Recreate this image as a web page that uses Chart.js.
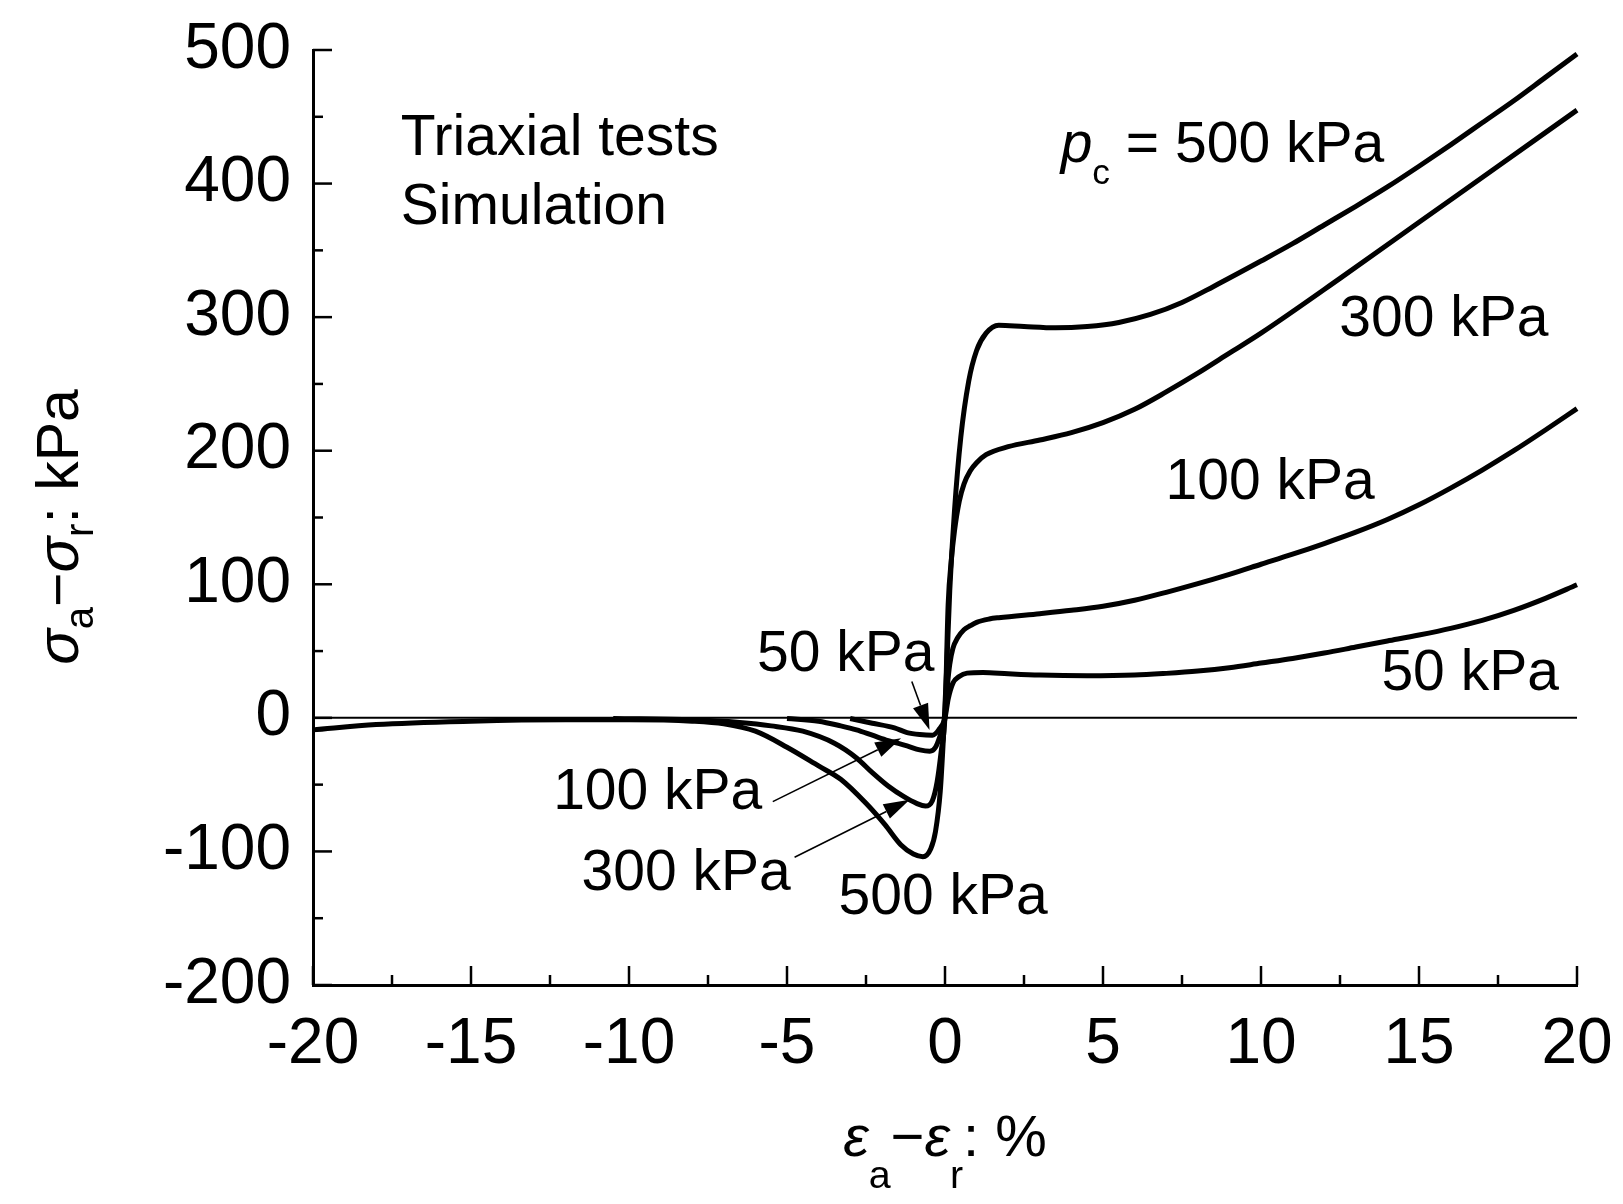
<!DOCTYPE html>
<html>
<head>
<meta charset="utf-8">
<script src="https://cdn.jsdelivr.net/npm/chart.js@4.4.0/dist/chart.umd.min.js"></script>
<style>
  html, body { margin: 0; padding: 0; background: #fff; }
  #wrap { width: 1623px; height: 1204px; position: relative; }
</style>
</head>
<body>
<div id="wrap"><canvas id="chart"></canvas></div>
<script>
// --- data: strain (%) vs deviator stress (kPa) ---
const strain50 = [-3, -2.3, -1.6, -1.2, -0.8, -0.4, -0.2, 0, 0.1, 0.25, 0.45, 0.7, 1.2, 2, 3, 4.5, 6, 7, 8, 9, 10, 11, 12, 13, 14, 15, 16, 17, 18, 19, 20];
const stress50 = [-0.5, -4, -7.5, -11, -12.5, -13, -9, 0, 14, 26, 31, 33.5, 34, 33, 32, 31.5, 32, 33.3, 35, 37.5, 41, 44.5, 48.5, 53, 57.5, 62, 67, 73, 80.5, 89.5, 99.6];

const strain100 = [-5, -4, -3.3, -2.8, -2.3, -1.8, -1.2, -0.8, -0.48, -0.3, -0.15, 0, 0.08, 0.15, 0.25, 0.4, 0.6, 0.8, 1.0, 1.4, 1.7, 3, 4, 5, 6, 7, 8, 9, 10, 11, 12, 13, 14, 15, 16, 17, 18, 19, 20];
const stress100 = [-0.5, -2.5, -6, -9, -13, -17, -21, -24, -25, -22, -13, 0, 25, 40, 52, 60, 66, 69, 71.5, 74, 75, 78, 80.5, 83.5, 88, 94, 100.5, 107.5, 115, 122.5, 130.5, 139, 148.5, 159.5, 172, 185.5, 200, 215.5, 231.5];

const strain300 = [-10.5, -8, -6.5, -5.5, -4.5, -3.5, -2.8, -2.3, -1.8, -1.3, -0.9, -0.62, -0.4, -0.25, -0.12, 0, 0.1, 0.2, 0.3, 0.45, 0.6, 0.8, 1.0, 1.3, 2, 3, 4, 5, 6, 7, 8, 9, 10, 12.5, 15, 17.5, 20];
const stress300 = [-0.5, -1.5, -3.5, -6, -10, -19, -30, -41, -51, -59, -64, -66, -62, -48, -25, 2, 85, 118, 140, 162, 175, 185, 191, 197, 203, 208, 213.5, 221, 231, 244, 258, 273, 288, 329, 371, 413, 455];

const strain500 = [-20, -18, -15, -12, -10, -8, -7, -6, -5, -4, -3.3, -2.5, -1.9, -1.4, -1.0, -0.7, -0.45, -0.3, -0.15, -0.05, 0.05, 0.15, 0.3, 0.5, 0.75, 1.0, 1.3, 1.7, 2.5, 3.5, 4.5, 5.5, 6.5, 7.5, 8.5, 10, 11, 12, 13, 14, 15, 16, 17, 18, 19, 20];
const stress500 = [-9, -5, -2.5, -1.5, -1.5, -2.5, -4.5, -10, -22, -36, -46, -64, -80, -95, -102, -104, -98, -85, -55, -15, 35, 95, 155, 210, 252, 275, 288, 294, 293, 292, 293, 296, 302, 311, 323, 342, 355, 369, 383, 397.5, 413, 429, 445.5, 462, 479.5, 497];

const zeroStrain = [-20, 20];
const zeroStress = [0, 0];

const xMin = -20, xMax = 20, xStep = 5;
const yMin = -200, yMax = 500, yStep = 100;

// annotations (data coordinates)
const notes = [
  { text: "Triaxial tests", x: -17.22, y: 421.5 },
  { text: "Simulation", x: -17.22, y: 369.4 },
  { text: "300 kPa", x: 12.48, y: 286 },
  { text: "100 kPa", x: 6.98, y: 164 },
  { text: "50 kPa", x: 13.81, y: 21 },
  { text: "50 kPa", x: -5.95, y: 35.4 },
  { text: "100 kPa", x: -12.4, y: -68 },
  { text: "300 kPa", x: -11.5, y: -128.8 },
  { text: "500 kPa", x: -3.37, y: -146.7 }
];
const pcNote = { x: 3.66, y: 415.9 };
const arrows = [
  { from: [-1.05, 27.2], to: [-0.49, -9.0] },
  { from: [-5.45, -62.7], to: [-1.39, -15.2] },
  { from: [-4.76, -104.3], to: [-1.12, -61.4] }
];

const FONT = "'Liberation Sans', Arial, Helvetica, sans-serif";
const NOTE_SIZE = 57;

function toXY(arrX, arrY) {
  return arrX.map((x, i) => ({ x: x, y: arrY[i] }));
}

function curve(data, width) {
  return {
    data: data,
    borderColor: "#000",
    borderWidth: width,
    pointRadius: 0,
    fill: false,
    cubicInterpolationMode: "monotone",
    clip: 10
  };
}

// rich text: parts = [{t, italic, sub}]
function richWidth(ctx, parts, size) {
  let w = 0;
  parts.forEach(p => {
    const s = p.sub ? size * p.sub : size;
    ctx.font = `${p.italic ? "italic " : ""}${s}px ${FONT}`;
    w += ctx.measureText(p.t).width;
  });
  return w;
}
function drawRich(ctx, parts, x, y, size) {
  let cx = x;
  parts.forEach(p => {
    const s = p.sub ? size * p.sub : size;
    ctx.font = `${p.italic ? "italic " : ""}${s}px ${FONT}`;
    const dy = p.sub ? size * (p.drop || 0.36) : 0;
    ctx.fillText(p.t, cx, y + dy);
    cx += ctx.measureText(p.t).width;
  });
}

const decorPlugin = {
  id: "decor",
  beforeDraw(chart) {
    const ctx = chart.ctx;
    ctx.save();
    ctx.fillStyle = "#fff";
    ctx.fillRect(0, 0, chart.width, chart.height);
    ctx.restore();
  },
  afterDraw(chart) {
    const ctx = chart.ctx;
    const xs = chart.scales.x, ys = chart.scales.y;
    const area = chart.chartArea;
    ctx.save();
    ctx.strokeStyle = "#000";
    ctx.fillStyle = "#000";

    // inward major + minor ticks
    ctx.lineWidth = 2.5;
    for (let v = xMin; v <= xMax; v += xStep / 2) {
      const px = xs.getPixelForValue(v);
      const len = (v % xStep === 0) ? 19 : 10;
      ctx.beginPath();
      ctx.moveTo(px, area.bottom);
      ctx.lineTo(px, area.bottom - len);
      ctx.stroke();
    }
    for (let v = yMin; v <= yMax; v += yStep / 2) {
      const py = ys.getPixelForValue(v);
      const len = (v % yStep === 0) ? 19 : 10;
      ctx.beginPath();
      ctx.moveTo(area.left, py);
      ctx.lineTo(area.left + len, py);
      ctx.stroke();
    }

    // annotations
    ctx.textBaseline = "alphabetic";
    ctx.textAlign = "left";
    ctx.font = `${NOTE_SIZE}px ${FONT}`;
    notes.forEach(n => {
      ctx.fillText(n.text, xs.getPixelForValue(n.x), ys.getPixelForValue(n.y));
    });
    drawRich(ctx, [
      { t: "p", italic: true },
      { t: "c", sub: 0.62, drop: 0.38 },
      { t: " = 500 kPa" }
    ], xs.getPixelForValue(pcNote.x), ys.getPixelForValue(pcNote.y), NOTE_SIZE);

    // arrows
    ctx.lineWidth = 1.6;
    arrows.forEach(a => {
      const x0 = xs.getPixelForValue(a.from[0]), y0 = ys.getPixelForValue(a.from[1]);
      const x1 = xs.getPixelForValue(a.to[0]), y1 = ys.getPixelForValue(a.to[1]);
      const ang = Math.atan2(y1 - y0, x1 - x0);
      const hl = 26, hw = 8;
      const bx = x1 - hl * Math.cos(ang), by = y1 - hl * Math.sin(ang);
      ctx.beginPath();
      ctx.moveTo(x0, y0);
      ctx.lineTo(bx, by);
      ctx.stroke();
      ctx.beginPath();
      ctx.moveTo(x1, y1);
      ctx.lineTo(bx + hw * Math.sin(ang), by - hw * Math.cos(ang));
      ctx.lineTo(bx - hw * Math.sin(ang), by + hw * Math.cos(ang));
      ctx.closePath();
      ctx.fill();
    });

    // axis titles with subscripts
    const xTitle = [
      { t: "\u03b5", italic: true },
      { t: "a", sub: 0.68, drop: 0.55 },
      { t: "\u2212" },
      { t: "\u03b5", italic: true },
      { t: "r", sub: 0.68, drop: 0.55 },
      { t: ": %" }
    ];
    const wx = richWidth(ctx, xTitle, 58);
    drawRich(ctx, xTitle, (area.left + area.right) / 2 - wx / 2, 1156, 58);

    const yTitle = [
      { t: "\u03c3", italic: true },
      { t: "a", sub: 0.68, drop: 0.26 },
      { t: "\u2212" },
      { t: "\u03c3", italic: true },
      { t: "r", sub: 0.68, drop: 0.26 },
      { t: ": kPa" }
    ];
    const wy = richWidth(ctx, yTitle, 59);
    ctx.translate(78, 527);
    ctx.rotate(-Math.PI / 2);
    drawRich(ctx, yTitle, -wy / 2, 0, 59);
    ctx.restore();
  }
};

new Chart(document.getElementById("chart"), {
  type: "line",
  data: {
    datasets: [
      curve(toXY(zeroStrain, zeroStress), 2),
      curve(toXY(strain50, stress50), 5),
      curve(toXY(strain100, stress100), 5),
      curve(toXY(strain300, stress300), 5),
      curve(toXY(strain500, stress500), 5)
    ]
  },
  options: {
    responsive: true,
    maintainAspectRatio: false,
    animation: false,
    layout: { padding: { left: 0, top: 50, right: 46, bottom: 0 } },
    plugins: { legend: { display: false }, tooltip: { enabled: false } },
    scales: {
      x: {
        type: "linear",
        min: xMin, max: xMax,
        grid: { display: false, drawTicks: false },
        border: { display: true, color: "#000", width: 3 },
        ticks: { stepSize: xStep, color: "#000", padding: 22, maxRotation: 0,
                 font: { family: FONT, size: 64 } },
        afterFit(scale) {
          scale.height = 219;
          scale.paddingLeft = 0;
          scale.paddingRight = 0;
        }
      },
      y: {
        type: "linear",
        min: yMin, max: yMax,
        grid: { display: false, drawTicks: false },
        border: { display: true, color: "#000", width: 3 },
        ticks: { stepSize: yStep, color: "#000", padding: 22,
                 font: { family: FONT, size: 64 } },
        afterFit(scale) {
          scale.width = 313;
          scale.paddingTop = 0;
          scale.paddingBottom = 0;
        }
      }
    }
  },
  plugins: [decorPlugin]
});
</script>
</body>
</html>
